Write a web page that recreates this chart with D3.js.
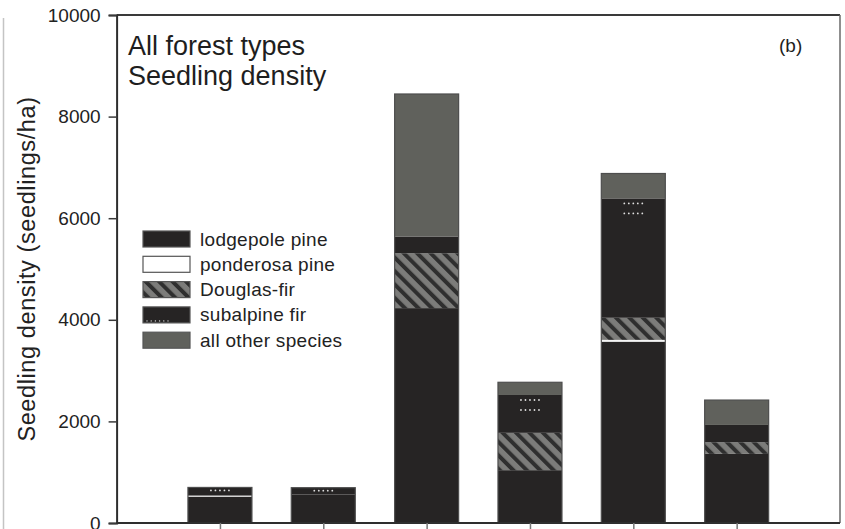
<!DOCTYPE html>
<html>
<head>
<meta charset="utf-8">
<script src="https://cdn.jsdelivr.net/npm/d3@7"></script>
<style>
  html, body { margin: 0; padding: 0; background: #fff; }
  svg { display: block; font-family: "Liberation Sans", Arial, Helvetica, sans-serif; }
</style>
</head>
<body>
<svg id="chart" width="845" height="529"></svg>
<script>
// Seedling density (seedlings/ha) by site, stacked by species
const sites = ["1", "2", "3", "4", "5", "6"];
const lodgepolePine = [520, 560, 4230, 1040, 3570, 1360];
const ponderosaPine = [20, 0, 0, 0, 35, 0];
const douglasFir    = [0, 0, 1080, 735, 435, 230];
const subalpineFir  = [160, 135, 330, 745, 2350, 340];
const otherSpecies  = [0, 0, 2805, 250, 490, 490];

const speciesKeys   = ["lodgepole", "ponderosa", "douglas", "subalpine", "other"];
const speciesLabels = ["lodgepole pine", "ponderosa pine", "Douglas-fir", "subalpine fir", "all other species"];
const yTicks = [0, 2000, 4000, 6000, 8000, 10000];

const rows = sites.map((s, i) => ({
  site: s,
  lodgepole: lodgepolePine[i],
  ponderosa: ponderosaPine[i],
  douglas: douglasFir[i],
  subalpine: subalpineFir[i],
  other: otherSpecies[i]
}));

const svg = d3.select("#chart");
const plotLeft = 116.6, plotRight = 840, plotTop = 15, plotBottom = 523;

const x = d3.scalePoint().domain(sites).range([plotLeft, plotRight]).padding(1);
const barW = 64;
const y = d3.scaleLinear().domain([0, 10000]).range([plotBottom, plotTop]);

// fills
const defs = svg.append("defs");
const hatch = defs.append("pattern")
  .attr("id", "hatch").attr("patternUnits", "userSpaceOnUse")
  .attr("width", 9.5).attr("height", 9.5)
  .attr("patternTransform", "rotate(-45)");
hatch.append("rect").attr("width", 9.5).attr("height", 9.5).attr("fill", "#7c7c7a");
hatch.append("rect").attr("x", 0).attr("width", 4).attr("height", 9.5).attr("fill", "#2f2f2f");

const DARK = "#262424", GRAY = "#60615c";
const fills = {
  lodgepole: DARK,
  ponderosa: "#f4f4f4",
  douglas: "url(#hatch)",
  subalpine: DARK,
  other: GRAY
};

// faint edge of the neighbouring panel
svg.append("line").attr("x1", 3.5).attr("x2", 3.5).attr("y1", 18).attr("y2", 529)
  .attr("stroke", "#c4c4c4").attr("stroke-width", 1.5);

// stacked bars
const series = d3.stack().keys(speciesKeys)(rows);
const barG = svg.append("g");
series.forEach(s => {
  barG.append("g").selectAll("rect")
    .data(s.filter(d => d[1] - d[0] > 0))
    .join("rect")
    .attr("x", d => x(d.data.site) - barW / 2)
    .attr("width", barW)
    .attr("y", d => y(d[1]))
    .attr("height", d => y(d[0]) - y(d[1]))
    .attr("fill", fills[s.key]);
});

// subalpine fir dot texture: two short rows on deep segments, one row on thin ones
const subSeries = series.find(s => s.key === "subalpine");
subSeries.forEach(d => {
  const h = y(d[0]) - y(d[1]);
  if (h <= 0 || (h >= 10 && h <= 25)) return;
  const cx = x(d.data.site);
  const offsets = h > 25 ? [5, 15] : [3];
  offsets.forEach(o => {
    d3.range(5).forEach(k => {
      barG.append("circle")
        .attr("cx", cx - 9 + k * 4.5)
        .attr("cy", y(d[1]) + o)
        .attr("r", 0.9)
        .attr("fill", "#e0e0e0");
    });
  });
});

// bar outlines
barG.append("g").selectAll("rect")
  .data(series[series.length - 1])
  .join("rect")
  .attr("x", d => x(d.data.site) - barW / 2)
  .attr("width", barW)
  .attr("y", d => y(d[1]))
  .attr("height", d => y(0) - y(d[1]))
  .attr("fill", "none")
  .attr("stroke", "#4e4e4e")
  .attr("stroke-width", 1.2);

// frame
svg.append("line").attr("x1", plotLeft).attr("x2", plotRight).attr("y1", plotTop).attr("y2", plotTop)
  .attr("stroke", "#3a3a3a").attr("stroke-width", 1.8);
svg.append("line").attr("x1", plotRight).attr("x2", plotRight).attr("y1", plotTop).attr("y2", plotBottom)
  .attr("stroke", "#6a6a6a").attr("stroke-width", 1.5);

// axes
const yAxis = svg.append("g")
  .attr("transform", `translate(${plotLeft},0)`)
  .call(d3.axisLeft(y).tickValues(yTicks).tickSize(8).tickPadding(8).tickFormat(d3.format("d")));
yAxis.select(".domain").attr("stroke", "#2e2e2e").attr("stroke-width", 2);
yAxis.selectAll(".tick line").attr("stroke", "#3a3a3a").attr("stroke-width", 1.5);
yAxis.selectAll(".tick text").attr("font-size", 19).attr("fill", "#222")
  .attr("font-family", "Liberation Sans, Arial, sans-serif");

const xAxis = svg.append("g")
  .attr("transform", `translate(0,${plotBottom})`)
  .call(d3.axisBottom(x).tickSize(7).tickFormat(""));
xAxis.select(".domain").attr("stroke", "#2e2e2e").attr("stroke-width", 2)
  .attr("d", `M${plotLeft},0H${plotRight}`);
xAxis.selectAll(".tick line").attr("stroke", "#777").attr("stroke-width", 1.5);

// axis title
svg.append("text")
  .attr("transform", `translate(35,${(plotTop + plotBottom) / 2}) rotate(-90)`)
  .attr("text-anchor", "middle")
  .attr("font-size", 23.5)
  .attr("letter-spacing", 0.6)
  .attr("fill", "#222")
  .text("Seedling density (seedlings/ha)");

// panel titles
svg.append("text").attr("x", 128).attr("y", 55).attr("font-size", 27).attr("fill", "#1e1e1e")
  .text("All forest types");
svg.append("text").attr("x", 128).attr("y", 85).attr("font-size", 27).attr("fill", "#1e1e1e")
  .text("Seedling density");
svg.append("text").attr("x", 779).attr("y", 52).attr("font-size", 19).attr("fill", "#1e1e1e")
  .text("(b)");

// legend
const legend = svg.append("g").attr("transform", "translate(143,231)");
speciesKeys.forEach((k, i) => {
  const g = legend.append("g").attr("transform", `translate(0,${i * 25.3})`);
  g.append("rect").attr("width", 47).attr("height", 16)
    .attr("fill", k === "ponderosa" ? "#fff" : fills[k]).attr("stroke", "#555").attr("stroke-width", 1.2);
  if (k === "subalpine") {
    d3.range(6).forEach(j => {
      g.append("circle").attr("cx", 4 + j * 4.2).attr("cy", 14).attr("r", 0.7).attr("fill", "#ddd");
    });
  }
  g.append("text").attr("x", 57).attr("y", 14.5).attr("font-size", 19).attr("letter-spacing", 0.3)
    .attr("fill", "#222")
    .text(speciesLabels[i]);
});
</script>
</body>
</html>
